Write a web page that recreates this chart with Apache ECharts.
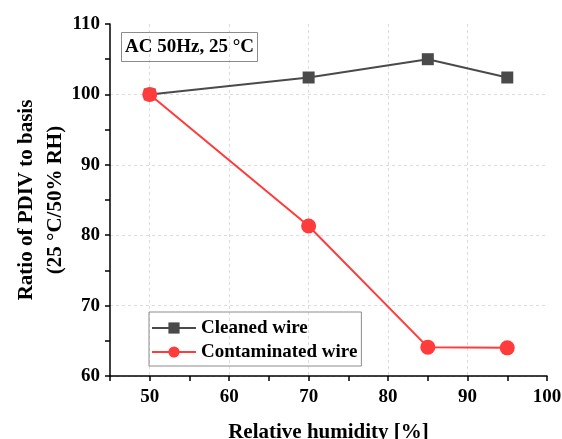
<!DOCTYPE html>
<html>
<head>
<meta charset="utf-8">
<script src="https://cdn.jsdelivr.net/npm/echarts@6/dist/echarts.min.js"></script>
<style>
  html, body { margin: 0; padding: 0; background: #fff; }
  #chart { width: 562px; height: 439px; }
</style>
</head>
<body>
<div id="chart"></div>
<script>
// Relative humidity (%) at which PDIV was measured
const humidity = [50, 70, 85, 95];
// PDIV ratio relative to the 25 °C / 50% RH basis
const cleanedWire = [100, 102.4, 105.0, 102.4];
const contaminatedWire = [100, 81.3, 64.1, 64.0];

const FONT = '"Liberation Serif", "Times New Roman", serif';
const chart = echarts.init(document.getElementById('chart'), null, { renderer: 'canvas' });

const pairs = (xs, ys) => xs.map((x, i) => [x, ys[i]]);

chart.setOption({
  backgroundColor: '#fff',
  animation: false,
  title: {
    text: 'AC 50Hz, 25 °C',
    left: 121,
    top: 32,
    padding: [5, 4, 5, 4],
    borderColor: '#8c8c8c',
    borderWidth: 1,
    textStyle: { fontFamily: FONT, fontWeight: 'bold', fontSize: 19, lineHeight: 20, color: '#000' }
  },
  legend: {
    orient: 'vertical',
    left: 149,
    top: 312,
    padding: [6, 4, 4, 2],
    itemWidth: 44,
    itemHeight: 14,
    itemGap: 4,
    borderColor: '#8c8c8c',
    borderWidth: 1,
    textStyle: { fontFamily: FONT, fontWeight: 'bold', fontSize: 19, lineHeight: 20, color: '#000' },
    data: ['Cleaned wire', 'Contaminated wire']
  },
  grid: { left: 110, right: 15, top: 24, bottom: 63, outerBoundsMode: 'none', containLabel: false },
  xAxis: {
    type: 'value',
    min: 45,
    max: 100,
    interval: 5,
    name: 'Relative humidity [%]',
    nameLocation: 'middle',
    nameGap: 46,
    nameMoveOverlap: false,
    nameTextStyle: { fontFamily: FONT, fontWeight: 'bold', fontSize: 21, color: '#000' },
    axisLine: { show: true, lineStyle: { color: '#000', width: 1.5 } },
    axisTick: { show: true, length: 5, lineStyle: { color: '#000', width: 1.5 } },
    axisLabel: {
      margin: 12,
      fontFamily: FONT, fontWeight: 'bold', fontSize: 19, color: '#000',
      formatter: v => (v % 10 === 0 ? String(v) : '')
    },
    splitLine: {
      show: true,
      showMaxLine: false,
      lineStyle: { color: ['rgba(0,0,0,0)', '#dcdcdc'], type: [3, 3], width: 1 }
    }
  },
  yAxis: {
    type: 'value',
    min: 60,
    max: 110,
    interval: 5,
    name: 'Ratio of PDIV to basis\n(25 °C/50% RH)',
    nameLocation: 'middle',
    nameGap: 40,
    nameMoveOverlap: false,
    nameRotate: 90,
    nameTextStyle: { fontFamily: FONT, fontWeight: 'bold', fontSize: 21, color: '#000', lineHeight: 29 },
    axisLine: { show: true, lineStyle: { color: '#000', width: 1.5 } },
    axisTick: { show: true, length: 5, lineStyle: { color: '#000', width: 1.5 } },
    axisLabel: {
      margin: 10,
      fontFamily: FONT, fontWeight: 'bold', fontSize: 19, color: '#000',
      formatter: v => (v % 10 === 0 ? String(v) : '')
    },
    splitLine: {
      show: true,
      showMaxLine: false,
      lineStyle: { color: ['#dcdcdc', 'rgba(0,0,0,0)'], type: [3, 3], width: 1 }
    }
  },
  series: [
    {
      name: 'Cleaned wire',
      type: 'line',
      data: pairs(humidity, cleanedWire),
      symbol: 'rect',
      symbolSize: 12,
      lineStyle: { color: '#4a4a4a', width: 2 },
      itemStyle: { color: '#4a4a4a' },
      z: 2
    },
    {
      name: 'Contaminated wire',
      type: 'line',
      data: pairs(humidity, contaminatedWire),
      symbol: 'circle',
      symbolSize: 15,
      lineStyle: { color: '#ff3b3b', width: 2 },
      itemStyle: { color: '#ff3b3b' },
      z: 3
    }
  ]
});
</script>
</body>
</html>
